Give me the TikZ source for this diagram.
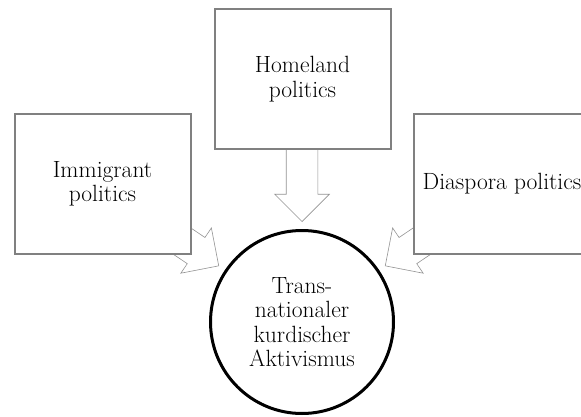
\documentclass[tikz,border=0pt]{standalone}
\usepackage{fontspec}
\usetikzlibrary{shapes.arrows,calc}

\tikzset{
  pbox/.style={draw=gray, line width=2pt, fill=white, minimum width=176pt,
    minimum height=140pt, align=center, font=\fontsize{23.5}{24.5}\selectfont},
  goal/.style={circle, draw=black, line width=3pt, fill=white, minimum size=183pt,
    inner sep=0pt, align=center, font=\fontsize{23.5}{24.5}\selectfont},
  flow/.style={single arrow, draw=gray!85, line width=0.6pt, fill=white,
    inner xsep=0pt, inner ysep=15.5pt, minimum height=100pt,
    single arrow head extend=11.5pt, single arrow tip angle=90, anchor=tip}
}

\begin{document}
\begin{tikzpicture}[x=1pt, y=1pt]
      \useasboundingbox (0,0) rectangle (581,416);
      % Define nodes
      \node[goal]             (kurd) at (302,94) {Trans-\\nationaler\\kurdischer\\Aktivismus};
      % Connect nodes
      \node[flow, rotate=-34]  (imarrow) at ($(kurd.center)+(146:100)$) {};
      \node[flow, rotate=-90]  (homarrow) at ($(kurd.center)+(90:100)$) {};
      \node[flow, rotate=-146] (diarrow) at ($(kurd.center)+(34:100)$) {};
      % Boxes on top of the arrow tails
      \node[pbox]             (immig) at (102.5,232) {Immigrant\\politics};
      \node[pbox]             (home) at (302.5,337) {Homeland\\politics};
      \node[pbox]             (diasp) at (502,232) {Diaspora politics};
    \end{tikzpicture}
\end{document}
